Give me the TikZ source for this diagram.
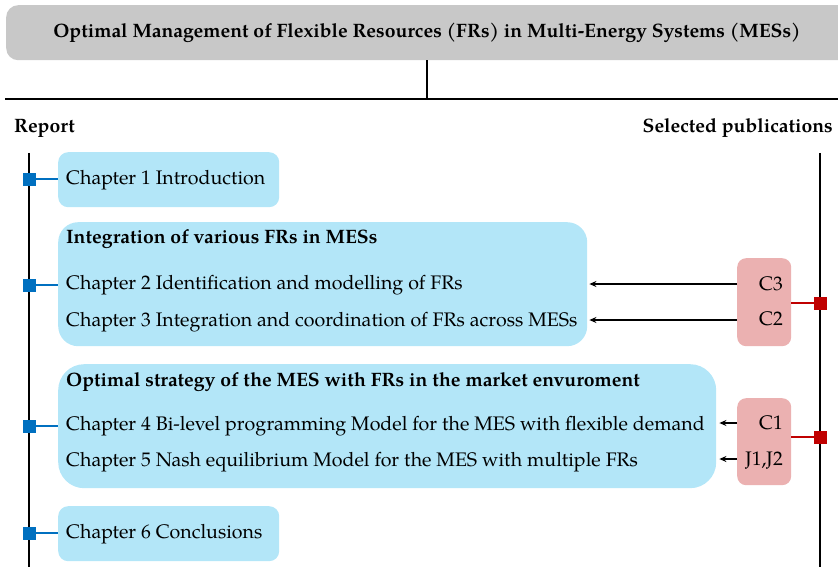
\documentclass[tikz,border=0pt]{standalone}
\usepackage{fontspec}
\setmainfont{TeX Gyre Pagella}
\usetikzlibrary{arrows.meta}
\definecolor{headgray}{HTML}{C8C8C8}
\definecolor{chapfill}{HTML}{B3E6F8}
\definecolor{pubfill}{HTML}{EBB1B1}
\definecolor{markblue}{HTML}{0070C0}
\definecolor{markred}{HTML}{C00000}
\tikzset{
  txt/.style={inner sep=0pt, font=\fontsize{19.6}{22}\selectfont},
  btxt/.style={inner sep=0pt, font=\fontsize{19.4}{22}\selectfont\bfseries},
  chapbox/.style={fill=chapfill, draw=none, anchor=north west, inner sep=0pt},
  pubbox/.style={fill=pubfill, draw=none, anchor=north west, inner sep=0pt, rounded corners=9pt},
  bluemark/.style={fill=markblue, draw=none, minimum size=13pt, inner sep=0pt},
  redmark/.style={fill=markred, draw=none, minimum size=13pt, inner sep=0pt},
  axis/.style={line width=1.3pt, black},
  cite/.style={line width=1.2pt, -{Stealth[length=7pt,width=6pt]}},
}
\begin{document}
\begin{tikzpicture}[x=1pt,y=-1pt]
\useasboundingbox (0,0) rectangle (838,567);

% heading bar and the split into the two columns
\node[fill=headgray, rounded corners=12pt, anchor=north west, minimum width=860pt, minimum height=55pt, inner sep=0pt] (head) at (6,5) {};
\node[btxt, anchor=base] (title) at (427,38) {Optimal Management of Flexible Resources (FRs) in Multi-Energy Systems (MESs)};
\coordinate (split) at (427,99);
\coordinate (ruleL) at (5,99);
\coordinate (ruleR) at (838,99);
\draw[line width=1.2pt] (head.south -| split) -- (split);
\draw[line width=1.2pt] (ruleL) -- (ruleR);

\node[btxt, anchor=base west] (report) at (14,132) {Report};
\node[btxt, anchor=base east] (pubs) at (833,132) {Selected publications};

% timelines
\coordinate (lTop) at (29,153);
\coordinate (lBot) at (29,567);
\coordinate (rTop) at (820,153);
\coordinate (rBot) at (820,567);
\draw[axis] (lTop) -- (lBot);
\draw[axis] (rTop) -- (rBot);

% chapter boxes
\node[chapbox, rounded corners=10pt, minimum width=221pt, minimum height=55pt] (b1) at (58,152) {};
\node[txt, anchor=base west] (ch1) at (66,185) {Chapter 1 Introduction};

\node[chapbox, rounded corners=20pt, minimum width=529pt, minimum height=124pt] (b2) at (58,222) {};
\node[btxt, anchor=base west] (g2) at (66,243) {Integration of various FRs in MESs};
\node[txt, anchor=base west] (ch2) at (66,289) {Chapter 2 Identification and modelling of FRs};
\node[txt, anchor=base west] (ch3) at (66,326) {Chapter 3 Integration and coordination of FRs across MESs};

\node[chapbox, rounded corners=26pt, minimum width=658pt, minimum height=124pt] (b3) at (58,364) {};
\node[btxt, anchor=base west] (g3) at (66,386) {Optimal strategy of the MES with FRs in the market envuroment};
\node[txt, anchor=base west] (ch4) at (66,430) {Chapter 4 Bi-level programming Model for the MES with flexible demand};
\node[txt, anchor=base west] (ch5) at (66,466) {Chapter 5 Nash equilibrium Model for the MES with multiple FRs};

\node[chapbox, rounded corners=10pt, minimum width=221pt, minimum height=55pt] (b4) at (58,506) {};
\node[txt, anchor=base west] (ch6) at (66,538) {Chapter 6 Conclusions};

% chapter markers on the report timeline
\node[bluemark] (m1) at (29,179) {};
\node[bluemark] (m2) at (29,285) {};
\node[bluemark] (m3) at (29,426) {};
\node[bluemark] (m4) at (29,533) {};
\foreach \m/\b in {m1/b1,m2/b2,m3/b3,m4/b4}
  \draw[markblue, line width=1.2pt] (\m.center) -- (\m.center -| \b.west);

% publication boxes
\node[pubbox, minimum width=54pt, minimum height=88pt] (p1) at (737,258) {};
\node[txt, anchor=base east] (c3) at (783,290) {C3};
\node[txt, anchor=base east] (c2) at (783,325) {C2};

\node[pubbox, minimum width=54pt, minimum height=87pt] (p2) at (737,398) {};
\node[txt, anchor=base east] (c1) at (783,429) {C1};
\node[txt, anchor=base east] (j12) at (783,465) {J1,J2};

% publication markers on the right timeline
\node[redmark] (r1) at (820,303) {};
\node[redmark] (r2) at (820,437) {};
\draw[markred, line width=1.1pt] (p1.east |- r1) -- (r1.center);
\draw[markred, line width=1.1pt] (p2.east |- r2) -- (r2.center);

% links from publications to chapters
\coordinate (a1) at (737,284);
\coordinate (a2) at (737,320);
\coordinate (a3) at (737,423);
\coordinate (a4) at (737,459);
\draw[cite] (a1) -- ([xshift=2pt]b2.east |- a1);
\draw[cite] (a2) -- ([xshift=2pt]b2.east |- a2);
\draw[cite] (a3) -- ([xshift=3pt]b3.east |- a3);
\draw[cite] (a4) -- ([xshift=3pt]b3.east |- a4);
\end{tikzpicture}
\end{document}
